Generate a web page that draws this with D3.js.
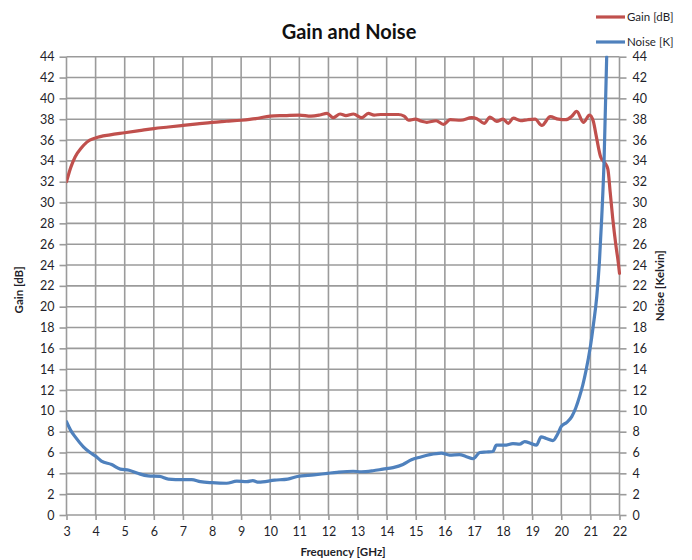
<!DOCTYPE html>
<html>
<head>
<meta charset="utf-8">
<script src="https://cdn.jsdelivr.net/npm/d3@7"></script>
<style>
  html, body { margin: 0; padding: 0; background: #fff; }
  svg { display: block; font-family: Lato, "Open Sans", sans-serif; }
</style>
</head>
<body>
<svg id="chart" width="692" height="560"></svg>
<script>
// Frequency grid and tick labels
const xTicks = d3.range(3, 23, 1);          // 3 … 22 GHz
const yTicks = d3.range(0, 46, 2);          // 0 … 44

// Gain [dB] vs frequency [GHz]
const gainFreq = [3.0, 3.15, 3.3, 3.5, 3.7, 4.0, 4.5, 5.0, 5.5, 6.0, 6.5, 7.0, 7.5, 8.0, 8.5, 9.0,
  9.5, 10.0, 10.5, 11.0, 11.4, 11.7, 11.95, 12.17, 12.4, 12.6, 12.86, 13.14, 13.37, 13.57, 13.8,
  14.1, 14.4, 14.6, 14.75, 14.98, 15.2, 15.38, 15.7, 15.95, 16.18, 16.55, 16.92, 17.1, 17.35,
  17.55, 17.78, 18.0, 18.18, 18.35, 18.6, 18.85, 19.1, 19.33, 19.62, 19.9, 20.15, 20.35, 20.53,
  20.76, 20.97, 21.1, 21.2, 21.35, 21.5, 21.6, 21.68, 21.77, 21.88, 21.96, 22.0];
const gainDb = [32.0, 33.4, 34.4, 35.2, 35.8, 36.2, 36.5, 36.7, 36.9, 37.1, 37.25, 37.4, 37.55,
  37.7, 37.8, 37.9, 38.05, 38.3, 38.35, 38.4, 38.3, 38.4, 38.55, 38.15, 38.5, 38.35, 38.5, 38.15,
  38.55, 38.4, 38.45, 38.45, 38.45, 38.3, 37.9, 38.0, 37.8, 37.7, 37.85, 37.5, 37.95, 37.9, 38.15,
  38.05, 37.6, 38.2, 37.8, 38.0, 37.6, 38.1, 37.85, 37.95, 38.0, 37.4, 38.25, 38.0, 37.95, 38.25,
  38.75, 37.7, 38.4, 37.8, 36.4, 34.4, 33.8, 33.2, 31.0, 28.4, 25.8, 24.2, 23.2];

// Noise temperature [K] vs frequency [GHz]
const noiseFreq = [3.0, 3.14, 3.3, 3.58, 3.81, 4.0, 4.2, 4.55, 4.85, 5.15, 5.45, 5.8, 6.2, 6.5,
  7.0, 7.3, 7.6, 8.0, 8.5, 8.85, 9.2, 9.4, 9.6, 10.15, 10.6, 10.93, 11.5, 11.97, 12.3, 12.85,
  13.13, 13.53, 13.87, 14.22, 14.56, 14.85, 15.14, 15.48, 15.88, 16.16, 16.5, 16.74, 16.97, 17.2,
  17.42, 17.65, 17.77, 18.05, 18.34, 18.57, 18.74, 18.97, 19.14, 19.31, 19.48, 19.71, 19.88,
  20.0, 20.19, 20.36, 20.5, 20.62, 20.74, 20.86, 20.99, 21.1, 21.22, 21.31, 21.39, 21.47, 21.56];
const noiseK = [8.95, 8.15, 7.5, 6.55, 6.0, 5.65, 5.17, 4.85, 4.4, 4.3, 4.0, 3.75, 3.7, 3.45,
  3.4, 3.4, 3.2, 3.1, 3.05, 3.25, 3.2, 3.3, 3.15, 3.35, 3.45, 3.7, 3.85, 4.0, 4.1, 4.2,
  4.15, 4.25, 4.4, 4.55, 4.85, 5.3, 5.55, 5.8, 5.95, 5.75, 5.8, 5.6, 5.4, 6.0,
  6.05, 6.1, 6.7, 6.7, 6.85, 6.8, 7.05, 6.85, 6.7, 7.5, 7.35, 7.15, 7.8,
  8.5, 8.9, 9.45, 10.3, 11.3, 12.5, 14.0, 16.0, 18.2, 21.0, 24.3, 28.6, 34.0, 44.0];

const seriesNames = ["Gain [dB]", "Noise [K]"];
const seriesColors = ["#C0504D", "#4F81BD"];

const svg = d3.select("#chart");
const plot = { left: 66.5, right: 619.5, top: 56.7, bottom: 515 };

const x = d3.scaleLinear().domain([3, 22]).range([plot.left, plot.right]);
const yL = d3.scaleLinear().domain([0, 44]).range([plot.bottom, plot.top]);
const yR = d3.scaleLinear().domain([0, 44]).range([plot.bottom, plot.top]);

const gridColor = "#9b9b9b";
const textColor = "#1f1f2a";

// Grid
const grid = svg.append("g").attr("stroke", gridColor).attr("stroke-width", 1.6);
grid.selectAll("line.v").data(xTicks).join("line")
  .attr("x1", d => x(d)).attr("x2", d => x(d))
  .attr("y1", plot.top).attr("y2", plot.bottom);
grid.selectAll("line.h").data(yTicks).join("line")
  .attr("x1", plot.left).attr("x2", plot.right)
  .attr("y1", d => yL(d)).attr("y2", d => yL(d));

function styleAxis(g) {
  g.select(".domain").remove();
  g.selectAll(".tick line").attr("stroke", gridColor).attr("stroke-width", 1.6);
  g.selectAll(".tick text").attr("fill", textColor)
    .style("font-size", "12.5px").style("font-family", "Lato, sans-serif");
}

svg.append("g").attr("transform", `translate(${plot.left},0)`)
  .call(d3.axisLeft(yL).tickValues(yTicks).tickSize(7).tickPadding(5))
  .call(styleAxis);
svg.append("g").attr("transform", `translate(${plot.right},0)`)
  .call(d3.axisRight(yR).tickValues(yTicks).tickSize(7).tickPadding(6))
  .call(styleAxis);
svg.append("g").attr("transform", `translate(0,${plot.bottom})`)
  .call(d3.axisBottom(x).tickValues(xTicks).tickSize(5).tickPadding(7))
  .call(styleAxis);

// Clip so the steep noise rise stops at the top of the plot
svg.append("clipPath").attr("id", "plotClip").append("rect")
  .attr("x", plot.left).attr("y", plot.top - 1)
  .attr("width", plot.right - plot.left + 2).attr("height", plot.bottom - plot.top + 1);

const lineGain = d3.line().x(d => x(d[0])).y(d => yL(d[1])).curve(d3.curveMonotoneX);
const lineNoise = d3.line().x(d => x(d[0])).y(d => yR(d[1])).curve(d3.curveMonotoneX);

const lines = svg.append("g").attr("clip-path", "url(#plotClip)")
  .attr("fill", "none").attr("stroke-width", 3.2)
  .attr("stroke-linejoin", "round").attr("stroke-linecap", "round");

lines.append("path")
  .attr("d", lineGain(d3.zip(gainFreq, gainDb)))
  .attr("stroke", seriesColors[0]);
lines.append("path")
  .attr("d", lineNoise(d3.zip(noiseFreq, noiseK)))
  .attr("stroke", seriesColors[1]);

// Title
svg.append("text").attr("x", 349).attr("y", 39).attr("text-anchor", "middle")
  .attr("fill", "#111").style("font-size", "20px").style("font-weight", "bold")
  .text("Gain and Noise");

// Axis titles
svg.append("text").attr("x", (plot.left + plot.right) / 2).attr("y", 556)
  .attr("text-anchor", "middle").attr("fill", textColor)
  .style("font-size", "11.5px").style("font-weight", "bold")
  .text("Frequency [GHz]");
svg.append("text")
  .attr("transform", `translate(23,${(plot.top + plot.bottom) / 2 + 4}) rotate(-90)`)
  .attr("text-anchor", "middle").attr("fill", textColor)
  .style("font-size", "11.5px").style("font-weight", "bold")
  .text("Gain [dB]");
svg.append("text")
  .attr("transform", `translate(664,${(plot.top + plot.bottom) / 2}) rotate(-90)`)
  .attr("text-anchor", "middle").attr("fill", textColor)
  .style("font-size", "11.5px").style("font-weight", "bold")
  .text("Noise [Kelvin]");

// Legend
const legend = svg.append("g");
const legendY = [17, 42];
seriesNames.forEach((name, i) => {
  legend.append("line")
    .attr("x1", 596).attr("x2", 625).attr("y1", legendY[i]).attr("y2", legendY[i])
    .attr("stroke", seriesColors[i]).attr("stroke-width", 3.2);
  legend.append("text").attr("x", 627).attr("y", legendY[i] + 4)
    .attr("fill", textColor).style("font-size", "11.5px").text(name);
});
</script>
</body>
</html>
